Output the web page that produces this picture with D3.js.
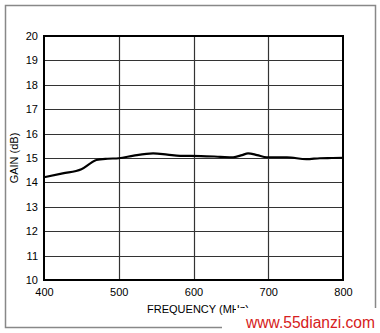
<!DOCTYPE html>
<html>
<head>
<meta charset="utf-8">
<script src="https://cdn.jsdelivr.net/npm/d3@7"></script>
<style>
  body { margin: 0; background: #fff; }
  svg { display: block; font-family: Arial, "Liberation Sans", sans-serif; }
</style>
</head>
<body>
<div id="chart"></div>
<script>
  // data
  var freq = [400, 425, 450, 462, 470, 485, 500, 520, 546, 565, 582, 610, 636, 653, 665, 673, 685, 698, 725, 751, 769, 785, 800];
  var gain = [14.21, 14.37, 14.54, 14.78, 14.92, 14.97, 14.99, 15.1, 15.19, 15.14, 15.09, 15.08, 15.05, 15.03, 15.12, 15.19, 15.12, 15.03, 15.03, 14.95, 14.99, 15.0, 15.01];
  var xTicks = [400, 500, 600, 700, 800];
  var yTicks = [10, 11, 12, 13, 14, 15, 16, 17, 18, 19, 20];

  var W = 380, H = 333;
  var plotL = 44, plotT = 36, plotR = 343, plotB = 280;

  var x = d3.scaleLinear().domain([400, 800]).range([plotL, plotR]);
  var y = d3.scaleLinear().domain([10, 20]).range([plotB, plotT]);

  var svg = d3.select("#chart").append("svg")
    .attr("width", W)
    .attr("height", H);

  // outer frame
  svg.append("rect")
    .attr("x", 5.5).attr("y", 5.5)
    .attr("width", 370).attr("height", 322)
    .attr("fill", "none")
    .attr("stroke", "#888")
    .attr("stroke-width", 1.5);

  // grid
  svg.append("g")
    .selectAll("line")
    .data(yTicks.slice(1, -1))
    .enter().append("line")
    .attr("x1", plotL).attr("x2", plotR)
    .attr("y1", function(d) { return Math.round(y(d)) + 0.5; })
    .attr("y2", function(d) { return Math.round(y(d)) + 0.5; })
    .attr("stroke", "#333").attr("stroke-width", 1.2);

  svg.append("g")
    .selectAll("line")
    .data(xTicks.slice(1, -1))
    .enter().append("line")
    .attr("y1", plotT).attr("y2", plotB)
    .attr("x1", function(d) { return Math.round(x(d)) + 0.5; })
    .attr("x2", function(d) { return Math.round(x(d)) + 0.5; })
    .attr("stroke", "#333").attr("stroke-width", 1.2);

  // plot frame
  svg.append("rect")
    .attr("x", plotL).attr("y", plotT)
    .attr("width", plotR - plotL).attr("height", plotB - plotT)
    .attr("fill", "none")
    .attr("stroke", "#000")
    .attr("stroke-width", 2);

  // tick labels
  var yAxis = svg.append("g")
    .attr("transform", "translate(" + plotL + ",0)")
    .call(d3.axisLeft(y).tickValues(yTicks).tickSize(0).tickPadding(6));
  yAxis.select(".domain").remove();
  yAxis.selectAll("text").attr("font-size", 11).attr("fill", "#000")
    .attr("font-family", "Arial, 'Liberation Sans', sans-serif");

  var xAxis = svg.append("g")
    .attr("transform", "translate(0," + plotB + ")")
    .call(d3.axisBottom(x).tickValues(xTicks).tickSize(0).tickPadding(8));
  xAxis.select(".domain").remove();
  xAxis.selectAll("text").attr("font-size", 11).attr("fill", "#000")
    .attr("font-family", "Arial, 'Liberation Sans', sans-serif");

  // the curve
  var line = d3.line()
    .curve(d3.curveMonotoneX)
    .x(function(d, i) { return x(freq[i]); })
    .y(function(d) { return y(d); });

  svg.append("path")
    .datum(gain)
    .attr("d", line)
    .attr("fill", "none")
    .attr("stroke", "#000")
    .attr("stroke-width", 2.2);

  // titles
  svg.append("text")
    .attr("x", 198).attr("y", 313)
    .attr("text-anchor", "middle")
    .attr("font-size", 11)
    .text("FREQUENCY (MHz)");

  svg.append("text")
    .attr("transform", "translate(18," + ((plotT + plotB) / 2) + ") rotate(-90)")
    .attr("text-anchor", "middle")
    .attr("font-size", 11)
    .text("GAIN (dB)");

  // watermark
  svg.append("rect")
    .attr("x", 236).attr("y", 308)
    .attr("width", 144).attr("height", 25)
    .attr("fill", "#fff");
  svg.append("rect")
    .attr("x", 222).attr("y", 322)
    .attr("width", 20).attr("height", 11)
    .attr("fill", "#fff");
  svg.append("text")
    .attr("x", 246).attr("y", 328)
    .attr("font-size", 16)
    .attr("textLength", 129)
    .attr("lengthAdjust", "spacingAndGlyphs")
    .attr("fill", "#d62020")
    .text("www.55dianzi.com");
</script>
</body>
</html>
